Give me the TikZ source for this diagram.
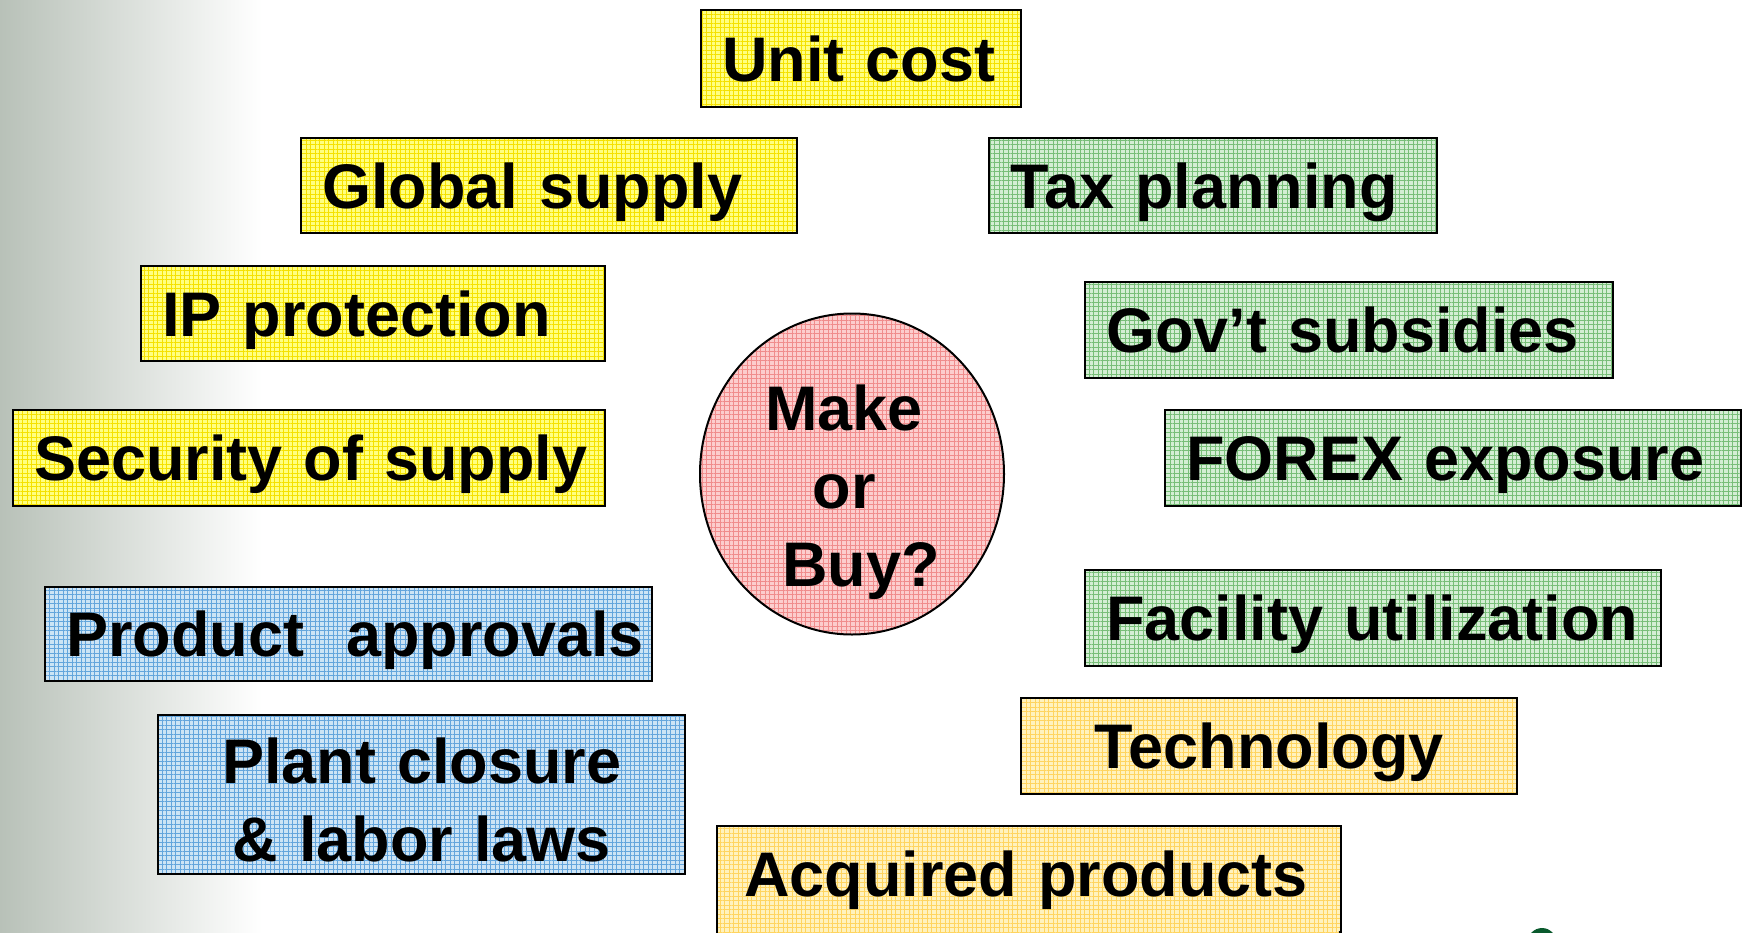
\documentclass[tikz,border=0pt]{standalone}
\usepackage{fontspec}
\setmainfont{Liberation Sans}
\usetikzlibrary{shapes.geometric,patterns.meta}

% fills and their fine grid texture
\definecolor{yelfill}{RGB}{255,255,128}
\definecolor{yelgrid}{RGB}{245,225,0}
\definecolor{grnfill}{RGB}{212,238,212}
\definecolor{grngrid}{RGB}{120,190,120}
\definecolor{blufill}{RGB}{205,228,245}
\definecolor{blugrid}{RGB}{100,165,220}
\definecolor{orgfill}{RGB}{255,242,190}
\definecolor{orggrid}{RGB}{255,212,95}
\definecolor{pnkfill}{RGB}{252,205,205}
\definecolor{pnkgrid}{RGB}{240,140,140}
\definecolor{sidegray}{RGB}{184,193,184}
\definecolor{logogreen}{RGB}{10,90,45}

\newcommand\tagfont{\fontsize{63}{76}\selectfont\bfseries}

\tikzset{
  texture/.style 2 args={
    preaction={fill=#1},
    preaction={pattern={Hatch[angle=0,distance=4.5pt,line width=0.5pt]}, pattern color=#2}},
  tag/.style={rectangle, draw=black, line width=2.4pt, anchor=north west,
    inner xsep=21pt, inner ysep=0pt, text height=45pt, text depth=0pt,
    align=left, font=\tagfont},
  yeltag/.style={tag, texture={yelfill}{yelgrid}},
  grntag/.style={tag, texture={grnfill}{grngrid}},
  blutag/.style={tag, texture={blufill}{blugrid}},
  orgtag/.style={tag, texture={orgfill}{orggrid}},
}

\begin{document}
\begin{tikzpicture}[x=1pt,y=-1pt]
  \useasboundingbox (0,0) rectangle (1743,932);
  \clip (0,0) rectangle (1743,932);

  % soft grey band along the left edge
  \shade[left color=sidegray, right color=white] (0,0) rectangle (262,932);

  % upper left: supply factors
  \node[yeltag, minimum width=320, minimum height=97, text width=278] (unit) at (700,9) {\mbox{Unit cost}};
  \node[yeltag, minimum width=496, minimum height=95, text width=454] (global) at (300,137) {\mbox{Global supply}};
  \node[yeltag, minimum width=464, minimum height=95, text width=422] (ip) at (140,265) {\mbox{IP protection}};
  \node[yeltag, minimum width=592, minimum height=96, text width=550] (security) at (12,409) {\mbox{Security of supply}};

  % right: financial factors
  \node[grntag, minimum width=448, minimum height=95, text width=406] (tax) at (988,137) {\mbox{Tax planning}};
  \node[grntag, minimum width=528, minimum height=96, text width=486] (gov) at (1084,281) {\mbox{Gov’t subsidies}};
  \node[grntag, minimum width=576, minimum height=96, text width=534] (forex) at (1164,409) {\mbox{FOREX exposure}};
  \node[grntag, minimum width=576, minimum height=96, text width=534] (facility) at (1084,569) {\mbox{Facility utilization}};

  % lower left: regulatory factors
  \node[blutag, minimum width=607, minimum height=94, text width=565] (product) at (44,586) {\mbox{Product~~approvals}};
  \node[blutag, minimum width=527, minimum height=159, text width=485, align=center,
        text height=, text depth=, font=\fontsize{63}{78}\selectfont\bfseries] (plant) at (157,714)
        {\rule{0pt}{57pt}Plant closure\\\& labor laws};

  % lower right: technology factors
  \node[orgtag, minimum width=496, minimum height=96, text width=454, align=center] (tech) at (1020,697) {\mbox{Technology}};
  \node[orgtag, minimum width=624, inner xsep=27pt, inner ysep=25pt, text depth=20pt, text width=570] (acquired) at (716,825) {\mbox{Acquired products}};

  % central question
  \node[ellipse, draw=black, line width=2pt, minimum width=304, minimum height=321,
        inner sep=0pt, texture={pnkfill}{pnkgrid}] (mob) at (852,474) {};
  \node[align=center, font=\fontsize{63}{78}\selectfont\bfseries] (mobtext) at (844,492)
        {Make\\or\\\hspace*{34pt}Buy?};

  % edge of the logo below the boxes
  \fill[logogreen] (1542,944) ellipse [x radius=15, y radius=16];
  \draw[line width=2.4pt] (1340,931) arc[start angle=180, end angle=120, radius=20];
\end{tikzpicture}
\end{document}
